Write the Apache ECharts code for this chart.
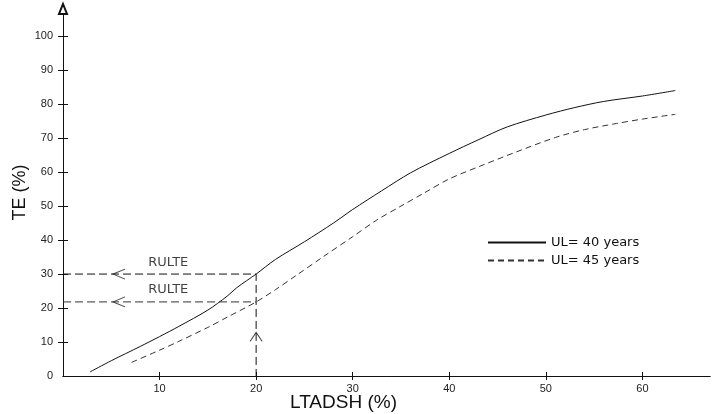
<!DOCTYPE html>
<html>
<head>
<meta charset="UTF-8">
<title>TE vs LTADSH</title>
<script src="https://cdn.jsdelivr.net/npm/echarts@6/dist/echarts.min.js"></script>
<style>
  html, body { margin: 0; padding: 0; background: #fff; }
  #main { width: 715px; height: 414px; }
</style>
</head>
<body>
<div id="main"></div>
<script>
// values
var seriesNames = ['UL= 40 years', 'UL= 45 years'];
var ul40 = [[2.8, 1.2], [5, 4.5], [8, 8.7], [10, 11.6], [12, 14.6], [15, 19.4], [17, 23.5], [18, 26], [20, 30],
  [22, 34.3], [25, 39.5], [28, 45], [30, 49], [33, 54.5], [36, 59.8], [40, 65.5], [43, 69.5], [46, 73.3],
  [50, 76.8], [53, 79], [56, 80.8], [60, 82.4], [63.4, 84]];
var ul45 = [[7.1, 4], [10, 7.6], [12, 10.2], [15, 14.3], [17, 17.3], [20, 21.8], [22, 25.4], [24.2, 29.7],
  [27, 35.2], [30, 41], [32.5, 45.9], [35, 50], [37.3, 53.7], [40, 58], [43.5, 62.1], [47, 66], [51, 70.2],
  [54, 72.5], [57.3, 74.3], [60, 75.6], [63.4, 77]];
var ruleX = 20;
var ruleY = [30, 21.8];
var arrowX = 5.8;
var arrowUpY = 11.5;
var noteText = 'RULTE';
var notePos = [[10.9, 33.3], [10.9, 25.4]];
var xTicks = [10, 20, 30, 40, 50, 60];
var yTicks = [0, 10, 20, 30, 40, 50, 60, 70, 80, 90, 100];

var font = 'Liberation Sans, Arial, sans-serif';
var wide = 'DejaVu Sans, sans-serif';
var ink = '#111';
var hidden = 'rgba(0,0,0,0)';

var chart = echarts.init(document.getElementById('main'));

// guide lines: L shape at the upper value, plain line at the lower one
var guideA = [[0, ruleY[0]], [ruleX, ruleY[0]], [ruleX, 0]];
var guideB = [[0, ruleY[1]], [ruleX, ruleY[1]]];

var leftArrow = 'path://M12,0 L0,5 L12,10';
var upArrow = 'path://M0,10 L6,0 L12,10';

var option = {
  animation: false,
  grid: { left: 63, right: 5, top: 9, bottom: 38, outerBoundsMode: 'none' },
  legend: {
    data: seriesNames,
    orient: 'vertical',
    left: 487,
    top: 236,
    padding: 0,
    itemWidth: 58,
    itemHeight: 14,
    itemGap: 5,
    itemStyle: { opacity: 0 },
    textStyle: { fontFamily: wide, fontSize: 13, color: ink }
  },
  xAxis: [{
    type: 'value', min: 0, max: 67,
    name: 'LTADSH (%)', nameLocation: 'middle', nameGap: 17, nameMoveOverlap: false,
    nameTextStyle: { fontFamily: font, fontSize: 19, color: ink, padding: [0, 86, 0, 0] },
    axisLine: { lineStyle: { color: ink, width: 1 } },
    axisTick: { customValues: xTicks, length: 4, lineStyle: { color: ink } },
    axisLabel: { customValues: xTicks, fontFamily: font, fontSize: 11, color: '#222', margin: 7 },
    splitLine: { show: false }
  }, {
    // second copy only for the inner half of the ticks
    type: 'value', min: 0, max: 67, position: 'bottom',
    axisLine: { show: true, lineStyle: { color: ink, width: 1 } },
    axisTick: { show: true, customValues: xTicks, inside: true, length: 4, lineStyle: { color: ink } },
    axisLabel: { show: true, customValues: xTicks, color: hidden },
    splitLine: { show: false }
  }],
  yAxis: [{
    type: 'value', min: 0, max: 108,
    name: 'TE (%)', nameLocation: 'middle', nameGap: 34, nameMoveOverlap: false,
    nameTextStyle: { fontFamily: font, fontSize: 18, color: ink },
    axisLine: { lineStyle: { color: ink, width: 1 }, symbol: ['none', 'emptyTriangle'], symbolSize: [8, 10] },
    axisTick: { customValues: yTicks.slice(1), length: 5, lineStyle: { color: ink } },
    axisLabel: { customValues: yTicks, fontFamily: font, fontSize: 11, color: '#222', margin: 10 },
    splitLine: { show: false }
  }, {
    type: 'value', min: 0, max: 108, position: 'left',
    axisLine: { show: true, lineStyle: { color: ink, width: 1 } },
    axisTick: { show: true, customValues: yTicks.slice(1), inside: true, length: 5, lineStyle: { color: ink } },
    axisLabel: { show: true, customValues: yTicks.slice(1), color: hidden },
    splitLine: { show: false }
  }],
  series: [
    {
      name: seriesNames[0], type: 'line', data: ul40, smooth: 0.3, symbol: 'none',
      lineStyle: { color: ink, width: 1 }, itemStyle: { color: ink }
    },
    {
      name: seriesNames[1], type: 'line', data: ul45, smooth: 0.3, symbol: 'none',
      lineStyle: { color: '#333', width: 1, type: [6, 4] }, itemStyle: { color: '#333' }
    },
    {
      type: 'line', data: guideA, symbol: 'none', silent: true,
      lineStyle: { color: ink, width: 1, type: [8, 4] }
    },
    {
      type: 'line', data: guideB, symbol: 'none', silent: true,
      lineStyle: { color: '#333', width: 1, type: [8, 4] }
    },
    {
      type: 'scatter', silent: true, symbol: leftArrow, symbolSize: [12, 10],
      data: ruleY.map(function (v) { return [arrowX, v]; }),
      itemStyle: { color: 'none', borderColor: ink, borderWidth: 1 }
    },
    {
      type: 'scatter', silent: true, symbol: upArrow, symbolSize: [12, 9],
      data: [[ruleX, arrowUpY]],
      itemStyle: { color: 'none', borderColor: ink, borderWidth: 1 }
    },
    {
      type: 'scatter', silent: true, symbolSize: 0,
      data: notePos,
      label: {
        show: true, position: 'inside', formatter: noteText,
        fontFamily: wide, fontSize: 13, color: ink
      }
    }
  ]
};

chart.setOption(option);
</script>
</body>
</html>
